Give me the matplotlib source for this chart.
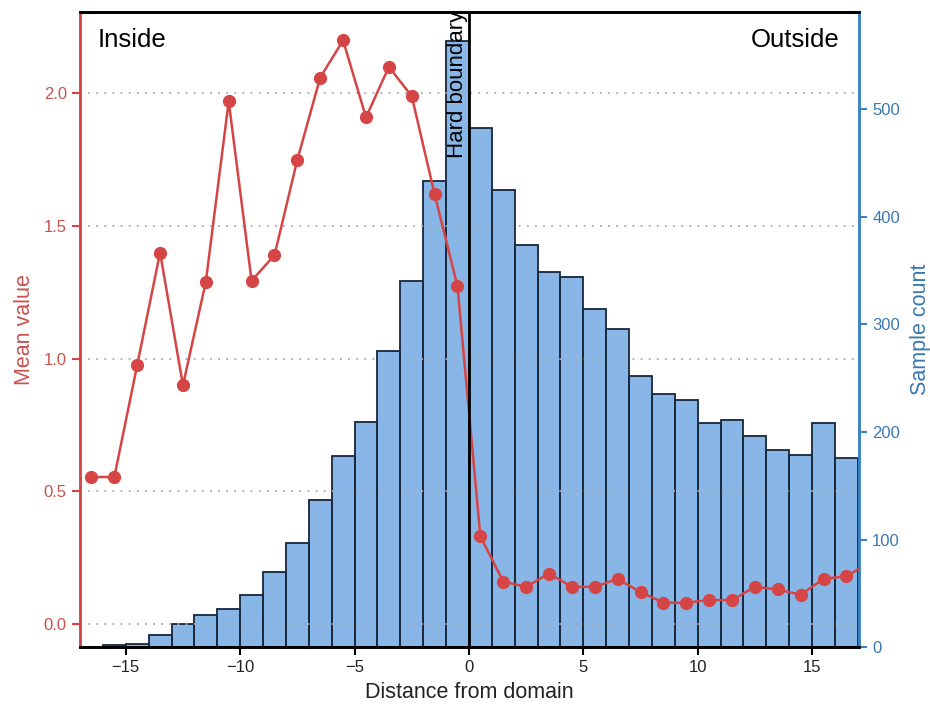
import matplotlib
matplotlib.use("Agg")
import matplotlib.pyplot as plt
import numpy as np

plt.rcParams['font.family'] = ['Liberation Sans', 'DejaVu Sans']

# Histogram bins (left edges, width 1) and sample counts
bin_left = list(range(-16, 17))
counts = [2, 3, 11, 22, 30, 36, 49, 70, 97, 137, 178, 209, 275, 340, 433, 563,
          483, 425, 374, 349, 344, 314, 296, 252, 235, 230, 208, 211, 196, 183, 179, 208, 176]

# Mean values at bin centres
centers = [-16.5, -15.5, -14.5, -13.5, -12.5, -11.5, -10.5, -9.5, -8.5, -7.5, -6.5, -5.5,
           -4.5, -3.5, -2.5, -1.5, -0.5, 0.5, 1.5, 2.5, 3.5, 4.5, 5.5, 6.5, 7.5, 8.5,
           9.5, 10.5, 11.5, 12.5, 13.5, 14.5, 15.5, 16.5, 17.5]
means = [0.554, 0.554, 0.976, 1.40, 0.90, 1.29, 1.97, 1.294, 1.39, 1.75, 2.06, 2.20,
         1.91, 2.10, 1.99, 1.62, 1.273, 0.33, 0.16, 0.14, 0.19, 0.14, 0.14, 0.17, 0.12, 0.08,
         0.08, 0.09, 0.09, 0.14, 0.13, 0.11, 0.17, 0.18, 0.23]

left_ticks = [0.0, 0.5, 1.0, 1.5, 2.0]
right_ticks = [0, 100, 200, 300, 400, 500]
x_ticks = [-15, -10, -5, 0, 5, 10, 15]

RED = '#d64545'
RED_TXT = '#c9524e'
BLUE = '#3b82c4'
BLUE_TXT = '#3a78b0'

fig = plt.figure(figsize=(9.3, 7.13), dpi=100)
ax = fig.add_axes([80/930, 1 - 647.3/713, (859-80)/930, (647.3-12)/713])
ax2 = ax.twinx()
ax.set_zorder(ax2.get_zorder() + 1)
ax.patch.set_visible(False)

ax2.bar(bin_left, counts, width=1.0, align='edge', color='#4a90d9', alpha=0.66,
        edgecolor='#1a2a40', linewidth=1.2)
ax2.bar(bin_left, counts, width=1.0, align='edge', fill=False,
        edgecolor='#1a2a40', linewidth=1.2)

for t in left_ticks:
    ax.axhline(t, color='#aaaaaa', lw=1.3, linestyle=(0, (1, 3.5)), zorder=1)

ax.plot(centers, means, color=RED, lw=1.8, marker='o', markersize=8.5, zorder=4,
        clip_on=True)
ax.axvline(0, color='black', lw=2, zorder=5)
ax.text(-0.05, 1.755, 'Hard boundary', rotation=90, ha='right', va='bottom',
        fontsize=16, zorder=6, clip_on=True)

ax.text(0.022, 0.975, 'Inside', transform=ax.transAxes, ha='left', va='top', fontsize=18.5)
ax.text(0.975, 0.975, 'Outside', transform=ax.transAxes, ha='right', va='top', fontsize=18.5)

ax.set_xlim(-17, 17.05)
ax.set_ylim(-0.088, 2.307)
ax2.set_ylim(0, 590.4)

ax.set_xticks(x_ticks)
ax.set_xticklabels(['\u221215', '\u221210', '\u22125', '0', '5', '10', '15'])
ax.set_yticks(left_ticks)
ax.set_yticklabels(['0.0', '0.5', '1.0', '1.5', '2.0'])
ax2.set_yticks(right_ticks)

ax.tick_params(axis='x', labelsize=12, length=6, width=1.5, color='black', labelcolor='#222222')
ax.tick_params(axis='y', labelsize=12, length=6, width=1.5, color=RED, labelcolor=RED_TXT)
ax2.tick_params(axis='y', labelsize=12, length=6, width=1.5, color=BLUE, labelcolor=BLUE_TXT)

ax.set_xlabel('Distance from domain', fontsize=15.5, color='#222222', labelpad=5)
ax.set_ylabel('Mean value', fontsize=15.5, color=RED_TXT, labelpad=6)
ax2.set_ylabel('Sample count', fontsize=15.5, color=BLUE_TXT, labelpad=7)

for a in (ax, ax2):
    a.spines['top'].set_color('black')
    a.spines['top'].set_linewidth(2)
    a.spines['bottom'].set_color('black')
    a.spines['bottom'].set_linewidth(2)
    a.spines['left'].set_color(RED)
    a.spines['left'].set_linewidth(1.8)
    a.spines['right'].set_color(BLUE)
    a.spines['right'].set_linewidth(1.8)

fig.savefig('out.png', dpi=100)
